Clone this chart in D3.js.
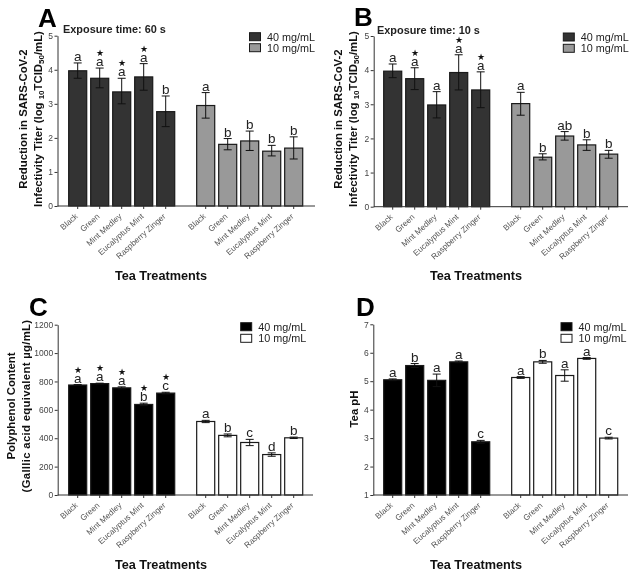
<!DOCTYPE html>
<html>
<head>
<meta charset="utf-8">
<script src="https://cdn.jsdelivr.net/npm/d3@7"></script>
<style>
	html, body { margin: 0; padding: 0; background: #fff; }
	svg { display: block; font-family: "Liberation Sans", Arial, sans-serif; filter: blur(0.4px); }
	.axis path, .axis line { stroke: #333; stroke-width: 1px; }
	.axis text { fill: #444; font-size: 8.5px; font-family: "Liberation Sans", Arial, sans-serif; }
	.x-axis text { font-size: 8.2px; fill: #555; }
	.axis-title { font-weight: bold; fill: #111; font-size: 11.35px; }
	.x-title { font-weight: bold; fill: #111; font-size: 12.7px; }
</style>
</head>
<body>
<div id="chart-area"></div>
<script>

// Categories and legend
let teas = ["Black", "Green", "Mint Medley", "Eucalyptus Mint", "Raspberry Zinger"];
let doses = ["40 mg/mL", "10 mg/mL"];

// Panel A: exposure 60 s
let a40 = [3.97, 3.75, 3.35, 3.79, 2.77];
let a40Hi = [4.2, 4.05, 3.75, 4.18, 3.23];
let a40Lo = [3.75, 3.47, 3.0, 3.4, 2.33];
let a10 = [2.95, 1.81, 1.91, 1.61, 1.7];
let a10Hi = [3.33, 1.98, 2.2, 1.78, 2.03];
let a10Lo = [2.58, 1.65, 1.63, 1.47, 1.38];
let aLetters40 = ["a", "a", "a", "a", "b"];
let aLetters10 = ["a", "b", "b", "b", "b"];
let aStars40 = [0, 1, 1, 1, 0];

// Panel B: exposure 10 s
let b40 = [3.97, 3.75, 2.98, 3.93, 3.42];
let b40Hi = [4.18, 4.07, 3.37, 4.45, 3.95];
let b40Lo = [3.78, 3.43, 2.6, 3.42, 2.9];
let b10 = [3.02, 1.45, 2.07, 1.81, 1.54];
let b10Hi = [3.35, 1.55, 2.2, 1.96, 1.65];
let b10Lo = [2.68, 1.37, 1.95, 1.65, 1.42];
let bLetters40 = ["a", "a", "a", "a", "a"];
let bLetters10 = ["a", "b", "ab", "b", "b"];
let bStars40 = [0, 1, 0, 1, 1];

// Panel C: polyphenol content
let c40 = [775, 785, 755, 638, 718];
let c40Hi = [778, 788, 762, 647, 724];
let c40Lo = [772, 782, 748, 630, 712];
let c10 = [518, 420, 370, 285, 403];
let c10Hi = [526, 430, 392, 297, 408];
let c10Lo = [510, 410, 348, 273, 398];
let cLetters40 = ["a", "a", "a", "b", "c"];
let cLetters10 = ["a", "b", "c", "d", "b"];
let cStars40 = [1, 1, 1, 1, 1];

// Panel D: tea pH
let d40 = [5.05, 5.55, 5.03, 5.68, 2.87];
let d40Hi = [5.08, 5.62, 5.25, 5.71, 2.92];
let d40Lo = [5.02, 5.48, 4.81, 5.65, 2.82];
let d10 = [5.13, 5.68, 5.2, 5.8, 3.0];
let d10Hi = [5.16, 5.73, 5.4, 5.83, 3.03];
let d10Lo = [5.1, 5.63, 5.0, 5.77, 2.97];
let dLetters40 = ["a", "b", "a", "a", "c"];
let dLetters10 = ["a", "b", "a", "a", "c"];
let dStars40 = [0, 0, 0, 0, 0];

// Tick values
let ticksAB = [0, 1, 2, 3, 4, 5];
let ticksC = [0, 200, 400, 600, 800, 1000, 1200];
let ticksD = [1, 2, 3, 4, 5, 6, 7];

// Panel layouts, all in page pixels
let panels = [
	{letter: "A", letterX: 38, letterY: 27, axisX: 57.5, axisEnd: 315, top: 35.7, bottom: 206, domain: [0, 5], ticks: ticksAB,
		first: 66.7, second: 194.7, fill: ["#333333", "#999999"],
		s40: [a40, a40Hi, a40Lo, aLetters40, aStars40], s10: [a10, a10Hi, a10Lo, aLetters10],
		note: "Exposure time: 60 s", noteX: 63, legendX: 249.5, legendY: [32.7, 43.7], titleX: [23, 38], titleY: 119, xTitleX: 161, xTitleY: 280,
		title: ["Reduction in SARS-CoV-2", "Infectivity"]},
	{letter: "B", letterX: 354, letterY: 26, axisX: 373.7, axisEnd: 628, top: 36, bottom: 206.7, domain: [0, 5], ticks: ticksAB,
		first: 381.7, second: 509.7, fill: ["#333333", "#999999"],
		s40: [b40, b40Hi, b40Lo, bLetters40, bStars40], s10: [b10, b10Hi, b10Lo, bLetters10],
		note: "Exposure time: 10 s", noteX: 377, legendX: 563.3, legendY: [33, 44.3], titleX: [338, 353], titleY: 119, xTitleX: 476, xTitleY: 280,
		title: ["Reduction in SARS-CoV-2", "Infectivity"]},
	{letter: "C", letterX: 29, letterY: 316, axisX: 57.7, axisEnd: 313, top: 324.7, bottom: 495, domain: [0, 1200], ticks: ticksC,
		first: 66.7, second: 194.7, fill: ["#000000", "#ffffff"],
		s40: [c40, c40Hi, c40Lo, cLetters40, cStars40], s10: [c10, c10Hi, c10Lo, cLetters10],
		note: "", noteX: 0, legendX: 240.7, legendY: [322.7, 334.3], titleX: [11, 26], titleY: 406, xTitleX: 161, xTitleY: 569,
		title: ["Polyphenol Content", "(Galllic acid equivalent \u00b5g/mL)"]},
	{letter: "D", letterX: 356, letterY: 316, axisX: 373.3, axisEnd: 628, top: 324.3, bottom: 495, domain: [1, 7], ticks: ticksD,
		first: 381.7, second: 509.7, fill: ["#000000", "#ffffff"],
		s40: [d40, d40Hi, d40Lo, dLetters40, dStars40], s10: [d10, d10Hi, d10Lo, dLetters10],
		note: "", noteX: 0, legendX: 561, legendY: [322.7, 334.3], titleX: [354], titleY: 409, xTitleX: 476, xTitleY: 569,
		title: ["Tea pH"]}
];

let svg = d3.select("#chart-area")
	.append("svg")
	.attr("width", 640)
	.attr("height", 586);

panels.forEach(function(p) {

	let group = svg.append("g").attr("class", "panel-" + p.letter);

	let yScale = d3.scaleLinear()
		.domain(p.domain)
		.range([p.bottom, p.top]);

	// One band scale for each dose group
	let xScales = [p.first, p.second].map(function(start) {
		return d3.scaleBand()
			.domain(teas)
			.range([start, start + 110])
			.paddingInner(0.18)
			.paddingOuter(0.09);
	});

	// Bars, error bars and labels
	[p.s40, p.s10].forEach(function(series, s) {

		let xScale = xScales[s];
		let rows = teas.map(function(t, i) {
			return {tea: t, value: series[0][i], hi: series[1][i], lo: series[2][i],
				letter: series[3][i], star: series[4] ? series[4][i] : 0};
		});
		let mid = d => xScale(d.tea) + xScale.bandwidth() / 2;

		group.selectAll(".bar-" + s)
			.data(rows)
			.enter()
			.append("rect")
			.attr("class", "bar-" + s)
			.attr("x", d => xScale(d.tea))
			.attr("y", d => yScale(d.value))
			.attr("width", xScale.bandwidth())
			.attr("height", d => p.bottom - yScale(d.value))
			.attr("fill", p.fill[s])
			.attr("stroke", "#1a1a1a")
			.attr("stroke-width", 1.2);

		group.selectAll(".err-" + s)
			.data(rows)
			.enter()
			.append("path")
			.attr("class", "err-" + s)
			.attr("d", d => "M" + (mid(d) - 4) + "," + yScale(d.hi) + "H" + (mid(d) + 4)
				+ "M" + mid(d) + "," + yScale(d.hi) + "V" + yScale(d.lo)
				+ "M" + (mid(d) - 4) + "," + yScale(d.lo) + "H" + (mid(d) + 4))
			.attr("fill", "none")
			.attr("stroke", "#111")
			.attr("stroke-width", 1);

		group.selectAll(".sig-" + s)
			.data(rows)
			.enter()
			.append("text")
			.attr("class", "sig-" + s)
			.attr("x", mid)
			.attr("y", d => yScale(d.hi) - 2)
			.attr("text-anchor", "middle")
			.attr("font-size", "13.5px")
			.attr("fill", "#222")
			.text(d => d.letter);

		group.selectAll(".star-" + s)
			.data(rows.filter(d => d.star))
			.enter()
			.append("text")
			.attr("class", "star-" + s)
			.attr("x", mid)
			.attr("y", d => yScale(d.hi) - 12)
			.attr("text-anchor", "middle")
			.attr("font-size", "8.5px")
			.attr("fill", "#111")
			.text("\u2605");

		// X axis for this group, tick labels turned
		let xAxis = group.append("g")
			.attr("class", "axis x-axis")
			.attr("transform", "translate(0," + p.bottom + ")")
			.call(d3.axisBottom(xScale).tickSize(3).tickSizeOuter(0));

		xAxis.select(".domain").remove();

		xAxis.selectAll("text")
			.style("text-anchor", "end")
			.attr("x", -7)
			.attr("y", 6)
			.attr("dy", "0.32em")
			.attr("transform", "rotate(-42)");
	});

	// Baseline across the whole panel
	group.append("line")
		.attr("x1", p.axisX)
		.attr("x2", p.axisEnd)
		.attr("y1", p.bottom)
		.attr("y2", p.bottom)
		.attr("stroke", "#333")
		.attr("stroke-width", 1);

	group.append("g")
		.attr("class", "axis y-axis")
		.attr("transform", "translate(" + p.axisX + ",0)")
		.call(d3.axisLeft(yScale).tickValues(p.ticks).tickFormat(d3.format("d")).tickSize(3).tickSizeOuter(0).tickPadding(1.5));

	// Panel letter and note
	group.append("text")
		.attr("x", p.letterX)
		.attr("y", p.letterY)
		.attr("font-size", "26px")
		.attr("font-weight", "bold")
		.text(p.letter);

	if (p.note) {
		group.append("text")
			.attr("x", p.noteX)
			.attr("y", p.top - 2.5)
			.attr("font-size", "10.9px")
			.attr("font-weight", "bold")
			.attr("fill", "#222")
			.text(p.note);
	}

	// Legend
	doses.forEach(function(dose, s) {
		group.append("rect")
			.attr("x", p.legendX)
			.attr("y", p.legendY[s])
			.attr("width", 11)
			.attr("height", 8)
			.attr("fill", p.fill[s])
			.attr("stroke", "#1a1a1a");

		group.append("text")
			.attr("x", p.legendX + 17.5)
			.attr("y", p.legendY[s] + 8)
			.attr("font-size", "10.8px")
			.attr("fill", "#222")
			.text(dose);
	});

	// Y titles, the second line of A and B has subscripts
	p.title.forEach(function(line, l) {
		let title = group.append("text")
			.attr("class", "axis-title")
			.attr("text-anchor", "middle")
			.attr("transform", "translate(" + (p.titleX[l] + 4) + "," + p.titleY + ") rotate(-90)");

		if (line == "Infectivity") {
			title.append("tspan").text("Infectivity Titer (log ");
			title.append("tspan").attr("font-size", "8px").attr("dy", 2).text("10");
			title.append("tspan").attr("dy", -2).text("TCID");
			title.append("tspan").attr("font-size", "8px").attr("dy", 2).text("50");
			title.append("tspan").attr("dy", -2).text("/mL)");
		} else {
			title.text(line);
			if (line[0] == "(") title.style("letter-spacing", "0.3px");
		}
	});

	// X title
	group.append("text")
		.attr("class", "x-title")
		.attr("x", p.xTitleX)
		.attr("y", p.xTitleY)
		.attr("text-anchor", "middle")
		.text("Tea Treatments");
});

</script>
</body>
</html>
